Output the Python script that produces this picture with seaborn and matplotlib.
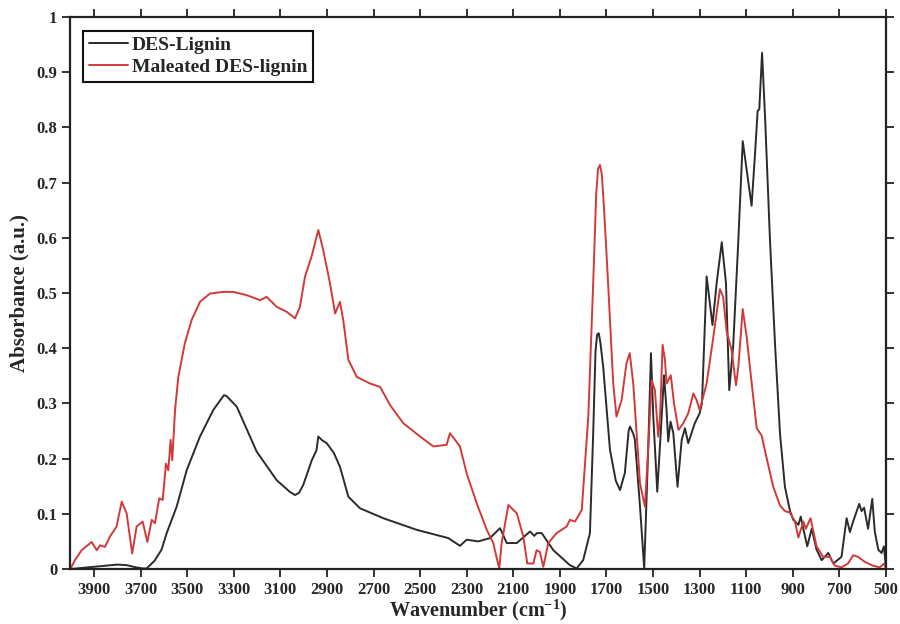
import numpy as np
import pandas as pd
import matplotlib
matplotlib.use("Agg")
import matplotlib.pyplot as plt
import seaborn as sns

# FTIR spectra: wavenumber (cm^-1) and absorbance (a.u.)
des_wn = [4000, 3950, 3900, 3850, 3800, 3760, 3720, 3690, 3674, 3640, 3610, 3588,
          3545, 3502, 3445, 3388, 3342, 3330, 3287, 3202, 3116, 3060, 3037, 3020,
          3002, 2965, 2945, 2937, 2920, 2901, 2870, 2844, 2808, 2758, 2658, 2515,
          2379, 2329, 2300, 2250, 2200, 2157, 2128, 2085, 2028, 2010, 1999, 1978,
          1928, 1857, 1828, 1800, 1771, 1757, 1747, 1740, 1733, 1726, 1714, 1685, 1660,
          1642, 1621, 1605, 1599, 1585, 1578, 1556, 1538, 1521, 1509, 1499, 1482,
          1463, 1453, 1442, 1435, 1425, 1413, 1395, 1377, 1363, 1349, 1321, 1300,
          1290, 1270, 1245, 1227, 1205, 1187, 1173, 1156, 1134, 1115, 1098, 1077,
          1062, 1051, 1044, 1032, 1019, 998, 976, 955, 934, 912, 898, 876, 866,
          855, 838, 819, 798, 776, 748, 726, 691, 669, 655, 641, 615, 605, 594,
          577, 559, 548, 533, 519, 509, 502, 500]
des_abs = [0.000, 0.002, 0.004, 0.006, 0.008, 0.007, 0.003, 0.001, 0.001, 0.015, 0.035, 0.065,
           0.113, 0.179, 0.240, 0.288, 0.315, 0.313, 0.294, 0.213, 0.161, 0.140, 0.134, 0.138,
           0.152, 0.197, 0.215, 0.240, 0.233, 0.228, 0.210, 0.185, 0.131, 0.110, 0.092, 0.071,
           0.056, 0.042, 0.053, 0.050, 0.056, 0.074, 0.047, 0.047, 0.068, 0.060, 0.065, 0.065,
           0.034, 0.007, 0.001, 0.016, 0.065, 0.246, 0.395, 0.425, 0.427, 0.410, 0.366, 0.216, 0.160,
           0.143, 0.174, 0.250, 0.258, 0.245, 0.234, 0.113, 0.001, 0.216, 0.391, 0.276, 0.140,
           0.276, 0.351, 0.288, 0.231, 0.267, 0.246, 0.149, 0.234, 0.255, 0.228, 0.264, 0.282,
           0.300, 0.530, 0.442, 0.518, 0.592, 0.518, 0.324, 0.404, 0.595, 0.775, 0.722, 0.658,
           0.754, 0.830, 0.833, 0.935, 0.817, 0.595, 0.404, 0.245, 0.149, 0.105, 0.089, 0.080, 0.095,
           0.073, 0.041, 0.073, 0.035, 0.016, 0.029, 0.010, 0.022, 0.092, 0.067, 0.086, 0.118, 0.105, 0.111,
           0.073, 0.127, 0.067, 0.035, 0.029, 0.041, 0.010, 0.012]

mal_wn = [4000, 3982, 3953, 3910, 3888, 3874, 3853, 3831, 3803, 3781, 3760, 3736,
          3717, 3691, 3671, 3652, 3638, 3620, 3605, 3591, 3581, 3571, 3564, 3552,
          3538, 3510, 3481, 3445, 3402, 3345, 3302, 3244, 3187, 3159, 3116, 3073,
          3037, 3016, 2994, 2966, 2937, 2916, 2887, 2865, 2844, 2830, 2808, 2772,
          2715, 2672, 2629, 2572, 2500, 2443, 2386, 2372, 2350, 2329, 2300, 2257,
          2214, 2186, 2169, 2160, 2150, 2121, 2085, 2057, 2040, 2014, 2000, 1986,
          1971, 1950, 1914, 1871, 1857, 1835, 1806, 1778, 1757, 1744, 1736, 1728, 1720, 1710,
          1693, 1671, 1657, 1635, 1614, 1600, 1585, 1556, 1535, 1521, 1506, 1492,
          1478, 1470, 1459, 1449, 1442, 1424, 1410, 1391, 1370, 1349, 1327, 1313,
          1300, 1270, 1241, 1213, 1199, 1184, 1163, 1144, 1134, 1115, 1098, 1077,
          1055, 1034, 1012, 984, 955, 934, 912, 891, 876, 855, 844, 824, 798, 770,
          741, 720, 691, 663, 641, 620, 591, 556, 527, 507, 502]
mal_abs = [0.001, 0.016, 0.034, 0.049, 0.034, 0.043, 0.040, 0.059, 0.077, 0.122, 0.101, 0.028,
           0.077, 0.086, 0.049, 0.089, 0.083, 0.128, 0.125, 0.191, 0.179, 0.234, 0.197, 0.288,
           0.348, 0.409, 0.451, 0.484, 0.499, 0.502, 0.502, 0.496, 0.487, 0.493, 0.475, 0.466,
           0.454, 0.475, 0.530, 0.566, 0.614, 0.578, 0.518, 0.463, 0.484, 0.451, 0.379, 0.348,
           0.336, 0.330, 0.297, 0.264, 0.240, 0.222, 0.225, 0.246, 0.234, 0.222, 0.173, 0.119,
           0.071, 0.047, 0.016, 0.001, 0.047, 0.116, 0.101, 0.059, 0.010, 0.010, 0.034, 0.031,
           0.004, 0.047, 0.065, 0.077, 0.089, 0.086, 0.107, 0.276, 0.518, 0.680, 0.725, 0.732, 0.715, 0.650,
           0.518, 0.336, 0.276, 0.306, 0.373, 0.391, 0.336, 0.155, 0.113, 0.216, 0.342, 0.324,
           0.240, 0.276, 0.406, 0.379, 0.336, 0.351, 0.300, 0.252, 0.264, 0.282, 0.318, 0.306,
           0.288, 0.336, 0.421, 0.507, 0.493, 0.430, 0.397, 0.333, 0.366, 0.471, 0.420, 0.338,
           0.255, 0.242, 0.200, 0.149, 0.115, 0.105, 0.102, 0.086, 0.057, 0.086, 0.073, 0.092, 0.041, 0.022,
           0.022, 0.006, 0.003, 0.010, 0.025, 0.022, 0.013, 0.006, 0.003, 0.010, 0.003]

x_ticks = [3900, 3700, 3500, 3300, 3100, 2900, 2700, 2500, 2300, 2100, 1900,
           1700, 1500, 1300, 1100, 900, 700, 500]
y_ticks = [0, 0.1, 0.2, 0.3, 0.4, 0.5, 0.6, 0.7, 0.8, 0.9, 1]
y_tick_labels = ["0", "0.1", "0.2", "0.3", "0.4", "0.5", "0.6", "0.7", "0.8", "0.9", "1"]

series_names = ["DES-Lignin", "Maleated DES-lignin"]
series_colors = ["#2b2b2b", "#d23a3a"]

sns.set_style("ticks")
plt.rcParams["font.family"] = ["Liberation Serif", "DejaVu Serif"]
plt.rcParams["font.weight"] = "bold"
plt.rcParams["mathtext.fontset"] = "custom"
plt.rcParams["mathtext.rm"] = "Liberation Serif:bold"
plt.rcParams["mathtext.bf"] = "Liberation Serif:bold"
plt.rcParams["mathtext.it"] = "Liberation Serif:bold"

df = pd.concat([
    pd.DataFrame({"wn": des_wn, "abs": des_abs, "sample": series_names[0]}),
    pd.DataFrame({"wn": mal_wn, "abs": mal_abs, "sample": series_names[1]}),
], ignore_index=True)

fig = plt.figure(figsize=(9, 6.24), dpi=100)
ax = fig.add_axes([70 / 900, 55 / 624, 816 / 900, 552 / 624])

sns.lineplot(data=df, x="wn", y="abs", hue="sample", hue_order=series_names,
             palette=series_colors, sort=False, estimator=None, linewidth=1.4,
             ax=ax, legend=True)

ax.set_xlim(4003, 500)
ax.set_ylim(0, 1)
ax.set_xticks(x_ticks)
ax.set_xticklabels([str(t) for t in x_ticks])
ax.set_yticks(y_ticks)
ax.set_yticklabels(y_tick_labels)

ax.tick_params(axis="both", which="major", direction="out", length=6, width=1.3,
               labelsize=12, top=True, right=True, labeltop=False, labelright=False,
               pad=3, color="#222222")
for lab in ax.get_xticklabels() + ax.get_yticklabels():
    lab.set_fontweight("bold")
for sp in ax.spines.values():
    sp.set_linewidth(1.6)
    sp.set_color("#222222")
    sp.set_visible(True)

ax.set_xlabel(r"Wavenumber (cm$^{-1}$)", fontsize=14.5, fontweight="bold", labelpad=0)
ax.set_ylabel("Absorbance (a.u.)", fontsize=15, fontweight="bold", labelpad=5)

leg = ax.legend(loc="upper left", bbox_to_anchor=(0.016, 0.975), borderaxespad=0,
                fontsize=14, frameon=True, fancybox=False, handlelength=2.0,
                handletextpad=0.2, borderpad=0.3, labelspacing=0.2)
leg.get_frame().set_edgecolor("#111111")
leg.get_frame().set_linewidth(1.5)
leg.get_frame().set_alpha(1)
leg.set_title(None)
for t in leg.get_texts():
    t.set_fontweight("bold")

fig.savefig("out.png", dpi=100)
